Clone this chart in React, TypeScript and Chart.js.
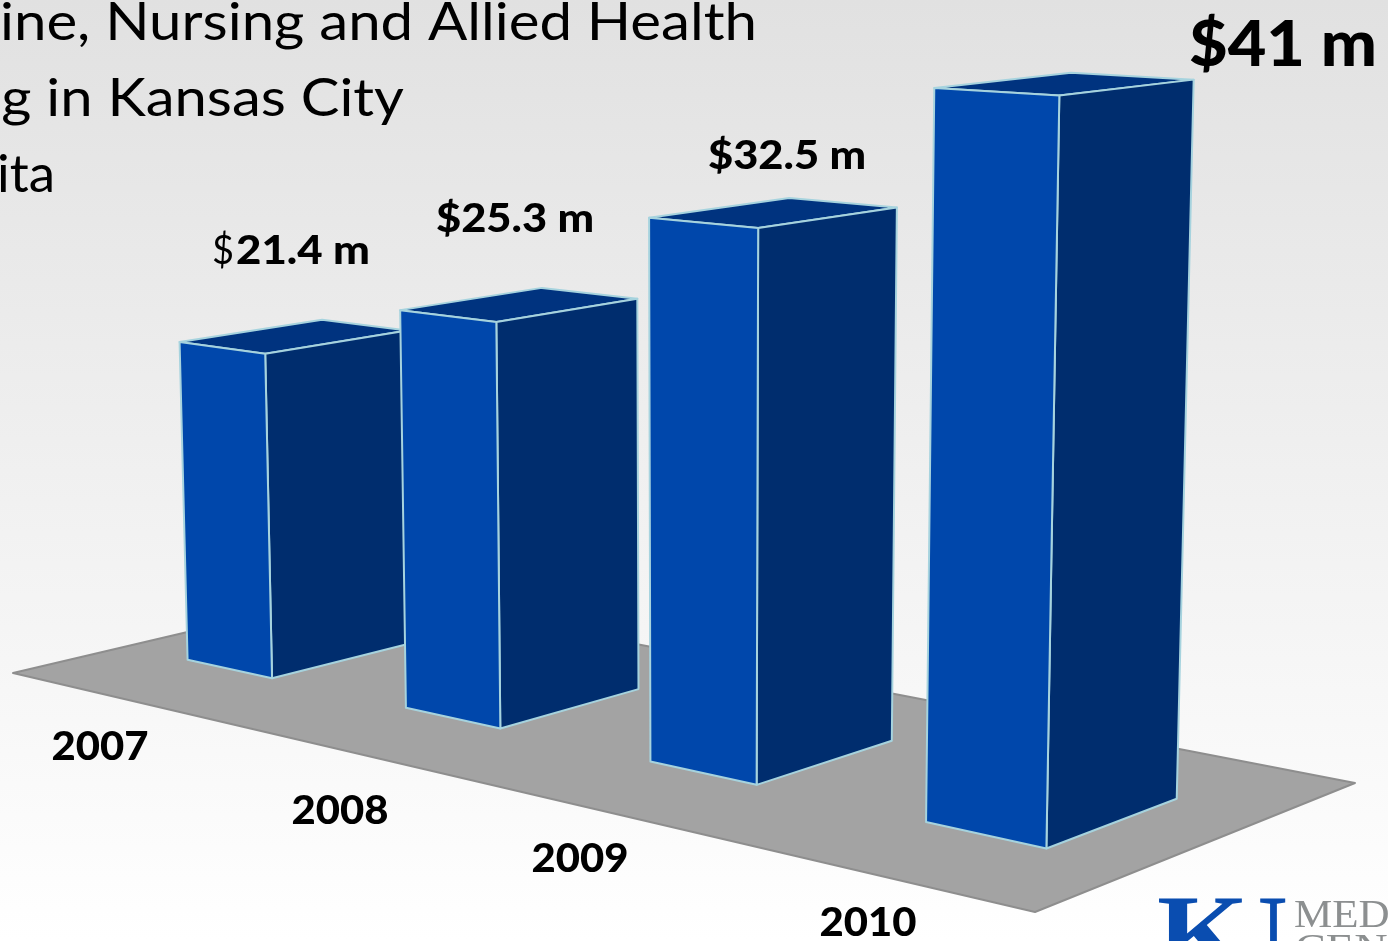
import React, { useEffect, useRef } from "react";
import { Chart, registerables } from "chart.js";

Chart.register(...registerables);

const years = ["2007", "2008", "2009", "2010"];
const fundingMillions = [21.4, 25.3, 32.5, 41];
const valueLabels = ["$21.4 m", "$25.3 m", "$32.5 m", "$41 m"];
const titleLines = ["ine, Nursing and Allied Health", "ng in Kansas City", "ita"];

const W = 1388;
const H = 941;
const Y_MAX = 50;

// Perspective camera: ground plane (u along years, v into depth) plus height.
const CAM = { a: 797.55, b: 384.87, c: 13, d: 41.22, e: -23.44, f: 673, g: -0.21686, h: 0.09909 };
const VANISH = { x: 700, y: 21000 };
const HEIGHT_K = -0.000729 * Y_MAX;
const DEPTH = { front: 0.305, back: 0.708 };

function project(u: number, v: number, t = 0) {
  const s = t * HEIGHT_K;
  const w = CAM.g * u + CAM.h * v + 1 + s;
  return {
    x: (CAM.a * u + CAM.b * v + CAM.c + s * VANISH.x) / w,
    y: (CAM.d * u + CAM.e * v + CAM.f + s * VANISH.y) / w,
  };
}

function poly(ctx: CanvasRenderingContext2D, pts: { x: number; y: number }[], fill: string, stroke: string, lw: number) {
  ctx.beginPath();
  pts.forEach((p, i) => (i ? ctx.lineTo(p.x, p.y) : ctx.moveTo(p.x, p.y)));
  ctx.closePath();
  ctx.fillStyle = fill;
  ctx.fill();
  ctx.strokeStyle = stroke;
  ctx.lineWidth = lw;
  ctx.lineJoin = "round";
  ctx.stroke();
}

const SANS = "Lato, 'Open Sans', sans-serif";
const SERIF = "'Liberation Serif', serif";

// Draws text horizontally stretched or squeezed to an exact width.
function fitText(
  ctx: CanvasRenderingContext2D,
  text: string,
  x: number,
  y: number,
  font: string,
  width: number,
  align: CanvasTextAlign,
  color = "#000000"
) {
  ctx.save();
  ctx.font = font;
  ctx.textAlign = align;
  ctx.textBaseline = "alphabetic";
  ctx.fillStyle = color;
  const natural = ctx.measureText(text).width || 1;
  ctx.translate(x, y);
  ctx.scale(width / natural, 1);
  ctx.fillText(text, 0, 0);
  ctx.restore();
}

const scene3d = {
  id: "scene3d",
  beforeDraw(chart: any) {
    const ctx = chart.ctx as CanvasRenderingContext2D;
    const g = ctx.createLinearGradient(0, 0, 0, H);
    g.addColorStop(0, "#e1e1e1");
    g.addColorStop(1, "#ffffff");
    ctx.fillStyle = g;
    ctx.fillRect(0, 0, W, H);
  },
  afterDatasetsDraw(chart: any) {
    const ctx = chart.ctx as CanvasRenderingContext2D;
    const area = chart.chartArea;
    const pw = area.right - area.left;
    const ph = area.bottom - area.top;
    ctx.save();
    poly(ctx, [project(0, 0), project(1, 0), project(1, 1), project(0, 1)], "#a3a3a3", "#8e8e8e", 2);
    chart.getDatasetMeta(0).data.forEach((el: any) => {
      const u0 = (el.x - el.width / 2 - area.left) / pw;
      const u1 = (el.x + el.width / 2 - area.left) / pw;
      const t = (el.base - el.y) / ph;
      const { front: v0, back: v1 } = DEPTH;
      const edge = "#a6d3de";
      poly(ctx, [project(u0, v0, t), project(u0, v1, t), project(u1, v1, t), project(u1, v0, t)], "#00337f", edge, 2);
      poly(ctx, [project(u1, v0), project(u1, v1), project(u1, v1, t), project(u1, v0, t)], "#002d6e", edge, 2);
      poly(ctx, [project(u0, v0), project(u1, v0), project(u1, v0, t), project(u0, v0, t)], "#0047ab", edge, 2);
    });

    // Heading fragments, cut by the left edge of the slide.
    const titleFont = `400 53px ${SANS}`;
    fitText(ctx, titleLines[0], 757, 40, titleFont, 757, "right");
    fitText(ctx, titleLines[1], 404, 116, titleFont, 435, "right");
    fitText(ctx, titleLines[2], 55, 192, titleFont, 58, "right");

    // Value labels
    const bold = (s: number) => `900 ${s}px ${SANS}`;
    fitText(ctx, "$", 212, 264, `400 40px ${SANS}`, 22, "left");
    fitText(ctx, valueLabels[0].slice(1), 236, 264, bold(40), 134, "left");
    fitText(ctx, valueLabels[1], 515, 232, bold(40), 158, "center");
    fitText(ctx, valueLabels[2], 787, 169, bold(40), 158, "center");
    fitText(ctx, valueLabels[3], 1283, 66, bold(62), 188, "center");

    // Year labels
    const yearPos = [[100, 760], [340, 824], [580, 872], [868, 936]];
    years.forEach((y, i) => fitText(ctx, y, yearPos[i][0], yearPos[i][1], bold(39), 97, "center"));

    // Logo, cut by the slide edges
    fitText(ctx, "K", 1157, 971, `700 110px ${SERIF}`, 92, "left", "#0a4db0");
    ctx.save();
    ctx.beginPath();
    ctx.rect(1250, 880, 60, 70);
    ctx.clip();
    fitText(ctx, "U", 1207, 971, `700 110px ${SERIF}`, 81, "left", "#0a4db0");
    ctx.restore();
    fitText(ctx, "MEDICAL", 1294, 927, `400 40px ${SERIF}`, 196, "left", "#8c8f90");
    fitText(ctx, "CENTER", 1295, 961, `400 40px ${SERIF}`, 180, "left", "#8c8f90");
    ctx.restore();
  },
};

export default function App() {
  const ref = useRef<HTMLCanvasElement>(null);
  useEffect(() => {
    if (!ref.current) return;
    const chart = new Chart(ref.current, {
      type: "bar",
      data: {
        labels: years,
        datasets: [
          {
            label: "Funding ($ millions)",
            data: fundingMillions,
            backgroundColor: "rgba(0,0,0,0)",
            borderWidth: 0,
            barPercentage: 0.4,
            categoryPercentage: 1,
          },
        ],
      },
      options: {
        responsive: false,
        animation: false,
        layout: { padding: 0 },
        plugins: { legend: { display: false }, tooltip: { enabled: false }, title: { display: false } },
        scales: {
          x: { display: false },
          y: { display: false, min: 0, max: Y_MAX },
        },
      },
      plugins: [scene3d],
    } as any);
    return () => chart.destroy();
  }, []);
  return (
    <div style={{ position: "fixed", left: 0, top: 0, width: W, height: H, overflow: "hidden" }}>
      <canvas ref={ref} width={W} height={H} style={{ display: "block" }} />
    </div>
  );
}
